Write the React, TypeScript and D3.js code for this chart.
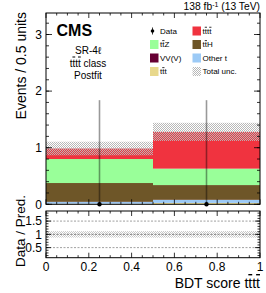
import React from 'react';
import * as d3 from 'd3';

// bin edges of the BDT score
const binEdges = [0, 0.5, 1];

// postfit yields per bin, stacked from bottom to top
const tttYields = [0.01, 0.025];
const otherTYields = [0.03, 0.051];
const vvvYields = [0.004, 0.004];
const ttHYields = [0.332, 0.26];
const ttZYields = [0.424, 0.29];
const ttttYields = [0.186, 0.65];
const totalUnc = [0.12, 0.16];

// observed data
const dataCounts = [0, 0];
const dataErrUp = [1.84, 1.84];

const yTicksMain = [0, 1, 2, 3];
const yTicksRatio = [0.5, 1, 1.5];
const xTicks = [0, 0.2, 0.4, 0.6, 0.8, 1];

const processes = [
  { key: 'ttt', values: tttYields, color: '#e8d88c' },
  { key: 'othert', values: otherTYields, color: '#9ccaf6' },
  { key: 'vvv', values: vvvYields, color: '#660033' },
  { key: 'ttH', values: ttHYields, color: '#6e5628' },
  { key: 'ttZ', values: ttZYields, color: '#99ff99' },
  { key: 'tttt', values: ttttYields, color: '#f0333f' },
];

const FONT = '"Liberation Sans", Arial, Helvetica, sans-serif';

const Bar = ({ children }: { children: React.ReactNode }) => (
  <tspan style={{ textDecoration: 'overline' }}>{children}</tspan>
);

export default function App() {
  const x = d3.scaleLinear().domain([0, 1]).range([46, 260]);
  const y = d3.scaleLinear().domain([0, 3.38]).range([204.3, 13]);
  const yr = d3.scaleLinear().domain([0.12, 1.88]).range([257.7, 211]);

  const bins = binEdges.slice(0, -1).map((lo, i) => ({ lo, hi: binEdges[i + 1], i }));
  const table = bins.map((b) => {
    const row: Record<string, number> = {};
    processes.forEach((p) => (row[p.key] = p.values[b.i]));
    return row;
  });
  const series = d3.stack().keys(processes.map((p) => p.key))(table as any);
  const totals = bins.map((b) => d3.sum(processes, (p) => p.values[b.i]));

  const yMinor = d3.range(0, 3.38, 0.2);
  const xMinor = d3.range(0, 1.0001, 0.05);
  const yrMinor = d3.range(0.2, 1.85, 0.1);

  const mainTop = y.range()[1];
  const mainBot = y.range()[0];
  const rTop = yr.range()[1];
  const rBot = yr.range()[0];
  const [xl, xr] = x.range();

  const frameTicks = (top: number, bot: number, yMaj: number[], yMin: number[], ys: (v: number) => number, tl: number) => (
    <g stroke="#000" strokeWidth={0.8}>
      {yMin.map((v, k) => (
        <g key={'ym' + k}>
          <line x1={xl} x2={xl + tl / 2} y1={ys(v)} y2={ys(v)} />
          <line x1={xr} x2={xr - tl / 2} y1={ys(v)} y2={ys(v)} />
        </g>
      ))}
      {yMaj.map((v, k) => (
        <g key={'yM' + k}>
          <line x1={xl} x2={xl + tl} y1={ys(v)} y2={ys(v)} />
          <line x1={xr} x2={xr - tl} y1={ys(v)} y2={ys(v)} />
        </g>
      ))}
      {xMinor.map((v, k) => {
        const major = Math.abs(Math.round(v / 0.2) * 0.2 - v) < 1e-6;
        const len = major ? 5 : 2.5;
        return (
          <g key={'x' + k}>
            <line x1={x(v)} x2={x(v)} y1={bot} y2={bot - len} />
            <line x1={x(v)} x2={x(v)} y1={top} y2={top + len} />
          </g>
        );
      })}
    </g>
  );

  return (
    <svg width={266} height={293} style={{ position: 'fixed', left: 0, top: 0, background: '#fff' }} fontFamily={FONT}>
      <defs>
        <pattern id="hatch" width={2} height={2} patternUnits="userSpaceOnUse">
          <rect x={0} y={0} width={1} height={1} fill="#b8b8b8" />
          <rect x={1} y={1} width={1} height={1} fill="#b8b8b8" />
        </pattern>
      </defs>
      <rect width={266} height={293} fill="#fff" />

      {/* stacked backgrounds */}
      {series.map((s, si) => (
        <g key={s.key} fill={processes[si].color}>
          {s.map((d, bi) => (
            <rect
              key={bi}
              x={x(bins[bi].lo)}
              width={x(bins[bi].hi) - x(bins[bi].lo)}
              y={y(d[1])}
              height={Math.max(0, y(d[0]) - y(d[1]))}
            />
          ))}
        </g>
      ))}

      {/* total uncertainty */}
      {bins.map((b) => (
        <rect
          key={'unc' + b.i}
          x={x(b.lo)}
          width={x(b.hi) - x(b.lo)}
          y={y(totals[b.i] + totalUnc[b.i])}
          height={y(totals[b.i] - totalUnc[b.i]) - y(totals[b.i] + totalUnc[b.i])}
          fill="url(#hatch)"
        />
      ))}

      {/* data */}
      {bins.map((b) => {
        const cx = x((b.lo + b.hi) / 2);
        return (
          <g key={'data' + b.i}>
            <line x1={cx} x2={cx} y1={y(dataCounts[b.i])} y2={y(dataCounts[b.i] + dataErrUp[b.i])} stroke="#000" strokeOpacity={0.4} strokeWidth={1.6} />
            <circle cx={cx} cy={y(dataCounts[b.i])} r={2.2} fill="#000" />
          </g>
        );
      })}

      {/* main frame */}
      <rect x={xl} y={mainTop} width={xr - xl} height={mainBot - mainTop} fill="none" stroke="#000" strokeWidth={1} />
      {frameTicks(mainTop, mainBot, yTicksMain, yMinor, y, 6)}
      <g fontSize={12} textAnchor="end">
        {yTicksMain.map((v) => (
          <text key={v} x={42} y={y(v)} dy="0.36em">{v}</text>
        ))}
      </g>

      {/* ratio panel */}
      {bins.map((b) => {
        const rel = totalUnc[b.i] / totals[b.i];
        return (
          <rect key={'runc' + b.i} x={x(b.lo)} width={x(b.hi) - x(b.lo)} y={yr(1 + rel)} height={yr(1 - rel) - yr(1 + rel)} fill="url(#hatch)" opacity={0.75} />
        );
      })}
      {yTicksRatio.map((v) => (
        <line key={'rl' + v} x1={xl} x2={xr} y1={yr(v)} y2={yr(v)} stroke={v === 1 ? '#666' : '#888'} strokeWidth={0.8} strokeDasharray="2,1.5" />
      ))}
      <rect x={xl} y={rTop} width={xr - xl} height={rBot - rTop} fill="none" stroke="#000" strokeWidth={1} />
      {frameTicks(rTop, rBot, yTicksRatio, yrMinor, yr, 5)}
      <g fontSize={12} textAnchor="end">
        {yTicksRatio.map((v) => (
          <text key={v} x={42} y={yr(v)} dy="0.36em">{v}</text>
        ))}
      </g>
      <g fontSize={12} textAnchor="middle">
        {xTicks.map((v) => (
          <text key={v} x={x(v)} y={271}>{v}</text>
        ))}
      </g>

      {/* axis titles */}
      <text fontSize={14} textAnchor="end" x={260} y={288}>
        BDT score t<Bar>t</Bar>t<Bar>t</Bar>
      </text>
      <text fontSize={14} textAnchor="end" transform="translate(25.5,12) rotate(-90)">Events / 0.5 units</text>
      <text fontSize={13.5} textAnchor="end" transform="translate(25,195) rotate(-90)">Data / Pred.</text>

      {/* header */}
      <text fontSize={10.3} textAnchor="end" x={260} y={10}>
        138 fb<tspan dy={-3.5} fontSize={7}>-1</tspan>
        <tspan dy={3.5}> (13 TeV)</tspan>
      </text>
      <text x={56.5} y={36} fontSize={16} fontWeight="bold">CMS</text>
      <g fontSize={10} textAnchor="middle">
        <text x={88} y={54}>SR-4ℓ</text>
        <text x={88} y={66.5}>t<Bar>t</Bar>t<Bar>t</Bar> class</text>
        <text x={88} y={79}>Postfit</text>
      </g>

      {/* legend */}
      <g fontSize={8}>
        <line x1={152.5} x2={152.5} y1={27.5} y2={34.5} stroke="#000" strokeWidth={0.8} />
        <circle cx={152.5} cy={31} r={1.8} fill="#000" />
        <text x={160} y={31} dy="0.35em">Data</text>
        <rect x={150} y={40} width={8.5} height={9} fill="#99ff99" />
        <text x={160} y={44.5} dy="0.35em">t<Bar>t</Bar>Z</text>
        <rect x={150} y={53.5} width={8.5} height={9} fill="#660033" />
        <text x={160} y={58} dy="0.35em">VV(V)</text>
        <rect x={150} y={67} width={8.5} height={9} fill="#e8d88c" />
        <text x={160} y={71.5} dy="0.35em">t<Bar>t</Bar>t</text>

        <rect x={192.5} y={26.5} width={8.5} height={9} fill="#f0333f" />
        <text x={202.5} y={31} dy="0.35em">t<Bar>t</Bar>t<Bar>t</Bar></text>
        <rect x={192.5} y={40} width={8.5} height={9} fill="#6e5628" />
        <text x={202.5} y={44.5} dy="0.35em">t<Bar>t</Bar>H</text>
        <rect x={192.5} y={53.5} width={8.5} height={9} fill="#9ccaf6" />
        <text x={202.5} y={58} dy="0.35em">Other t</text>
        <rect x={192.5} y={67} width={8.5} height={9} fill="url(#hatch)" />
        <text x={202.5} y={71.5} dy="0.35em">Total unc.</text>
      </g>
    </svg>
  );
}
